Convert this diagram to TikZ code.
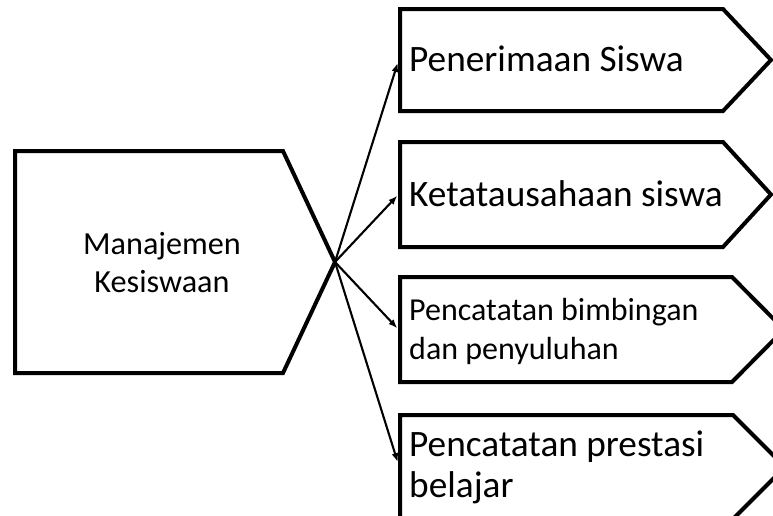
\documentclass[tikz,border=0pt]{standalone}
\usepackage{fontspec}
\setmainfont{Carlito}
\usetikzlibrary{arrows.meta}
\begin{document}
\begin{tikzpicture}[x=1pt,y=-1pt,
  shapeline/.style={line width=4pt,line join=miter},
  conn/.style={line width=2.1pt,-{Latex[length=9pt,width=7pt]},shorten >=1pt},
  bigtxt/.style={inner sep=0pt,anchor=west,align=left,font=\fontsize{37.3}{41}\selectfont},
  smalltxt/.style={inner sep=0pt,anchor=west,align=left,font=\fontsize{32}{39}\selectfont},
  maintxt/.style={inner sep=0pt,align=center,font=\fontsize{32.2}{38}\selectfont}]
\useasboundingbox (0,0) rectangle (773,515);
% main shape
\draw[shapeline] (15,151) -- (283,151) -- (335,262) -- (283,373) -- (15,373) -- cycle;
\coordinate (mainpt) at (335,262);
\node[maintxt] (mtext) at (162,263) {Manajemen\\Kesiswaan};
% boxes
\draw[shapeline] (400,9) -- (723,9) -- (771,60) -- (723,111) -- (400,111) -- cycle;
\coordinate (b1w) at (398,62);
\node[bigtxt] (t1) at (409,59) {Penerimaan Siswa};
\draw[shapeline] (400,142) -- (723,142) -- (771,194.5) -- (723,247) -- (400,247) -- cycle;
\coordinate (b2w) at (398,195);
\node[bigtxt] (t2) at (409,194) {Ketatausahaan siswa};
\draw[shapeline] (400,277) -- (732,277) -- (784,329.5) -- (732,382) -- (400,382) -- cycle;
\coordinate (b3w) at (398,329);
\node[smalltxt] (t3) at (409,331) {Pencatatan bimbingan\\dan penyuluhan};
\draw[shapeline] (400,415) -- (733,415) -- (785,467) -- (733,519) -- (400,519) -- cycle;
\coordinate (b4w) at (398,463);
\node[bigtxt] (t4) at (409,467) {Pencatatan prestasi\\belajar};
% connectors
\draw[conn] (mainpt) -- (b1w);
\draw[conn] (mainpt) -- (b2w);
\draw[conn] (mainpt) -- (b3w);
\draw[conn] (mainpt) -- (b4w);
\end{tikzpicture}
\end{document}
